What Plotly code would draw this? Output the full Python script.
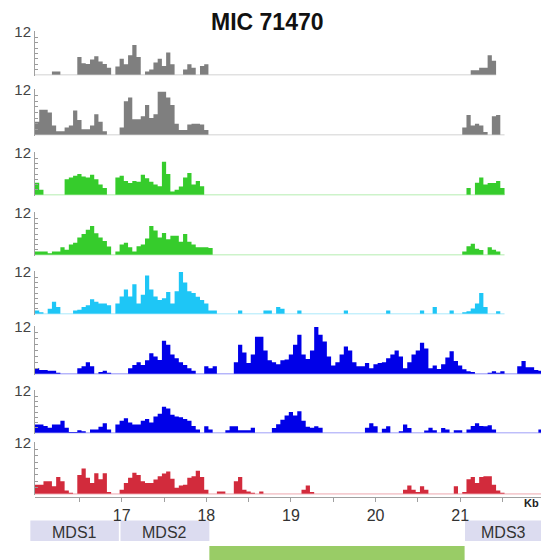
import plotly.graph_objects as go

# Read-depth profiles in 0.05 kb bins, starting at 15.975 kb
BIN_START = 15.975
BIN_WIDTH = 0.05

track_1 = [0, 0, 0, 0, 1, 1, 0, 0, 0, 0,
           5, 3.3, 3.1, 4.3, 5.2, 3.8, 3.1, 2, 0, 2.4,
           4.5, 3, 5.5, 8.4, 5, 0, 1, 1.5, 3.5, 4.5,
           2.5, 6.3, 3, 0, 0, 1.5, 3, 2, 0, 2.5,
           3, 0, 0, 0, 0, 0, 0, 0, 0, 0,
           0, 0, 0, 0, 0, 0, 0, 0, 0, 0,
           0, 0, 0, 0, 0, 0, 0, 0, 0, 0,
           0, 0, 0, 0, 0, 0, 0, 0, 0, 0,
           0, 0, 0, 0, 0, 0, 0, 0, 0, 0,
           0, 0, 0, 0, 0, 0, 0, 0, 0, 0,
           0, 0, 0, 1.3, 1.3, 2, 2, 5.5, 4]

track_2 = [3.5, 6.7, 6.7, 6, 2.5, 1, 1, 2, 2.5, 6.5,
           4, 1.5, 1.5, 2.5, 5.5, 3.5, 1, 0, 0, 0,
           2, 9, 10, 4.2, 4.2, 5, 8, 4.5, 5.5, 11.5,
           11.5, 10, 8, 3, 1.3, 1.3, 2.8, 3, 3, 2.8,
           1.3, 0, 0, 0, 0, 0, 0, 0, 0, 0,
           0, 0, 0, 0, 0, 0, 0, 0, 0, 0,
           0, 0, 0, 0, 0, 0, 0, 0, 0, 0,
           0, 0, 0, 0, 0, 0, 0, 0, 0, 0,
           0, 0, 0, 0, 0, 0, 0, 0, 0, 0,
           0, 0, 0, 0, 0, 0, 0, 0, 0, 0,
           0, 2, 5.3, 2.5, 3, 2.5, 0.8, 0, 5, 5.3,
           0]

track_3 = [3.5, 1.5, 0, 0, 0, 0, 0, 4.5, 5, 5.5,
           6, 5.3, 5, 5.8, 4.5, 3, 2, 0, 0, 5,
           5.5, 4, 3.4, 4, 3.8, 5.8, 4.8, 3.8, 3, 2.5,
           9.5, 6, 1, 1.5, 2.4, 5, 6.3, 3, 4, 2.5,
           0, 0, 0, 0, 0, 0, 0, 0, 0, 0,
           0, 0, 0, 0, 0, 0, 0, 0, 0, 0,
           0, 0, 0, 0, 0, 0, 0, 0, 0, 0,
           0, 0, 0, 0, 0, 0, 0, 0, 0, 0,
           0, 0, 0, 0, 0, 0, 0, 0, 0, 0,
           0, 0, 0, 0, 0, 0, 0, 0, 0, 0,
           0, 0, 2, 0, 3.5, 5, 3, 3.4, 3.4, 4,
           2]

track_4 = [1, 1, 1, 0.5, 1, 1, 2.2, 1.5, 3, 3.5,
           5, 6, 7.2, 8.3, 6.2, 5, 4, 2.4, 0, 1,
           3, 3.5, 2.2, 1, 2.5, 3, 4.7, 8.3, 7, 5,
           6.3, 4.5, 5.5, 5.5, 3.8, 6, 3.8, 3, 2.2, 2.2,
           2.2, 2, 0, 0, 0, 0, 0, 0, 0, 0,
           0, 0, 0, 0, 0, 0, 0, 0, 0, 0,
           0, 0, 0, 0, 0, 0, 0, 0, 0, 0,
           0, 0, 0, 0, 0, 0, 0, 0, 0, 0,
           0, 0, 0, 0, 0, 0, 0, 0, 0, 0,
           0, 0, 0, 0, 0, 0, 0, 0, 0, 0,
           0, 1, 2.5, 3.2, 1.8, 1.4, 0, 2.2, 1.5, 1,
           0]

track_5 = [1, 0.5, 0, 1.5, 3.5, 2, 0, 0, 0, 1,
           1.2, 2, 2.5, 4.2, 3.5, 3, 3, 2.5, 0, 3,
           5, 7, 5, 8.5, 3, 5.5, 11, 7, 5, 4,
           4.5, 6.3, 3, 6.5, 12, 9, 6.5, 6, 4.9, 4,
           3, 1, 1, 0, 0, 0, 0, 0, 1, 0,
           0, 0, 0, 0, 1, 1, 0, 2, 1.5, 0,
           0, 0, 1, 0, 0, 0, 0, 0, 0, 0,
           0, 0, 0, 1, 0, 0, 0, 0, 0, 0,
           0, 0, 0, 1, 0, 0, 0, 0, 0, 0,
           0, 1, 0, 0, 2, 0, 0, 0, 1, 0,
           0, 0.5, 0.8, 1.6, 3, 6, 2, 0, 0, 0.8,
           0]

track_6 = [1.5, 1, 1, 0.8, 0.8, 0.3, 0, 0, 0, 0,
           1.5, 2, 3, 2, 0, 0.5, 0.8, 0.3, 0, 0,
           0, 0, 1.5, 2.3, 3, 2.3, 3.5, 5.3, 4.5, 3.6,
           8.5, 7.5, 5, 4, 3, 2.3, 1.5, 0.8, 0, 0,
           2, 1.5, 2, 0, 0, 0, 0, 3, 7.5, 5.5,
           2.8, 5, 9.5, 9.5, 6, 3.5, 3, 2.5, 3.5, 3.7,
           5, 7.5, 10, 5, 3.8, 6, 12, 10, 8.3, 4.5,
           2.2, 3, 5, 7, 6, 3, 2, 2, 2.8, 1.5,
           2.5, 2.8, 3, 4, 5, 6, 4.5, 1.5, 3, 5,
           6, 8, 6.5, 1.5, 2.2, 1.3, 2.5, 4.2, 5.8, 3.3,
           2.2, 1.2, 0.7, 0.5, 0, 0, 0, 0.3, 0.7, 0.3,
           0.7, 0, 0, 0, 2, 3.3, 1.7, 1.7, 1, 0.8]

track_7 = [2.4, 2.4, 2, 1.5, 2.4, 2.4, 3.5, 1.5, 0.3, 0.3,
           0.8, 0.5, 0, 1, 1, 1.8, 2.8, 1, 0, 2.4,
           3.5, 4.2, 3, 2.4, 2.4, 3.5, 4, 3, 4.7, 5.5,
           7.5, 7, 5.2, 4.7, 4.5, 4, 3.5, 2, 1, 0,
           1.9, 1, 0, 0, 0, 0.8, 1.9, 1.9, 0.8, 0.8,
           0.8, 1.5, 0, 0, 0, 0, 1.4, 2.5, 3.8, 5,
           6, 5, 6.2, 3.5, 1.8, 1.5, 1.9, 1.5, 0, 0,
           0, 0, 0, 0, 0, 0, 0, 0, 1.5, 2.8,
           1.9, 0, 1.2, 1.9, 0, 0, 0.5, 2.4, 1.4, 0,
           0, 0, 0.7, 1.5, 0.8, 0, 1.4, 1, 0, 0.8,
           0.8, 0, 1, 2, 2.8, 2, 1.9, 2.2, 1, 0,
           0, 0, 0, 0, 0, 0, 0, 0, 0, 1]

track_8 = [2.2, 2.2, 3, 3, 1.8, 4, 3, 0.8, 0.3, 0,
           4.5, 6, 3.8, 2.6, 4.9, 3.5, 4.9, 0.5, 0, 0,
           1, 2.6, 3.8, 5, 4.5, 3, 2.6, 2.6, 3.4, 4.2,
           4.8, 5.3, 3.6, 1.5, 2, 2.2, 3.8, 4.2, 5.5, 4,
           1, 0, 0, 0.6, 0.6, 0, 0, 3, 4, 1,
           0.6, 0.3, 0, 0.6, 0, 0, 0, 0, 0, 0,
           0, 0, 0, 1, 2, 0.5, 0, 0, 0, 0,
           0, 0, 0, 0, 0, 0, 0, 0, 0, 0,
           0, 0, 0, 0, 0, 0, 0, 1, 2, 1,
           0.5, 1.8, 1, 0, 0, 0, 0, 0, 0, 1.8,
           0, 0.5, 3.5, 4, 2.6, 4, 4.2, 4.2, 2.2, 0.8,
           0.3, 0, 0, 0, 0, 0, 0, 0, 0, 0]

tracks = [track_1, track_2, track_3, track_4, track_5, track_6, track_7, track_8]

# Axis labelling
y_tick_label = "12"
x_tick_values = [17, 18, 19, 20, 21]
x_minor_ticks = [16.5, 17.5, 18.5, 19.5, 20.5, 21.5]

# Annotated segments below the axis (kb)
mds_names = ["MDS1", "MDS2", "MDS3"]
mds_starts = [15.92, 16.986, 21.058]
mds_ends = [16.966, 18.036, 22.0]
bar_start = [18.036]
bar_end = [21.053]

# Styling
fill_colors = ["#7f7f7f", "#7f7f7f", "#36cc2c", "#36cc2c",
               "#1ec6f6", "#0000e8", "#0000e8", "#d22b3c"]
base_colors = ["#c2c2c2", "#c2c2c2", "#9be695", "#9be695",
               "#8fe2fa", "#7070f5", "#8080f5", "#ea9aa2"]
# (top of scale, zero line) for each track, in pixels from the top
track_px = [(32, 75), (90, 135), (153, 195), (213, 255),
            (272, 314), (327, 374), (391, 433), (443, 494)]

W, H = 541, 560
LEFT = 35
X_RANGE = [15.975, 21.956]
Y_TOP = 12
FONT = "Liberation Sans, Arial, Helvetica, sans-serif"


def py(px):
    return 1 - px / H


def kb_to_paper(kb):
    return (kb - X_RANGE[0]) / (X_RANGE[1] - X_RANGE[0])


def px_to_paper_x(px):
    return (px - LEFT) / (W - LEFT)


fig = go.Figure()
layout = {}

for k, vals in enumerate(tracks):
    idx = k + 1
    xa = "x" if idx == 1 else f"x{idx}"
    ya = "y" if idx == 1 else f"y{idx}"
    n = len(vals)
    edges = [BIN_START + BIN_WIDTH * i for i in range(n + 1)]
    heights = list(vals) + [vals[-1]]

    fig.add_trace(go.Scatter(
        x=edges, y=heights, mode="lines",
        line=dict(width=0, shape="hv", color=fill_colors[k]),
        fill="tozeroy", fillcolor=fill_colors[k],
        xaxis=xa, yaxis=ya, hoverinfo="skip", showlegend=False))
    fig.add_trace(go.Scatter(
        x=[edges[0], edges[-1]], y=[0, 0], mode="lines",
        line=dict(width=1, color=base_colors[k]),
        xaxis=xa, yaxis=ya, hoverinfo="skip", showlegend=False))

    top_px, base_px = track_px[k]
    scale = (base_px - top_px) / Y_TOP
    y_lo, y_hi = -0.15, Y_TOP + 0.2
    domain = [py(base_px - y_lo * scale), py(top_px - (y_hi - Y_TOP) * scale)]

    ticks = [i * 1.5 for i in range(9)]
    layout[f"yaxis{'' if idx == 1 else idx}"] = dict(
        domain=domain, range=[y_lo, y_hi], anchor=xa,
        tickvals=ticks,
        ticktext=["" for _ in ticks[:-1]] + [y_tick_label],
        ticks="inside", ticklen=3, tickwidth=1, tickcolor="#9a9a9a",
        showline=True, linecolor="#a0a0a0", linewidth=1,
        showgrid=False, zeroline=False, automargin=False,
        tickfont=dict(family=FONT, size=15, color="#444444"),
    )

    xcfg = dict(range=X_RANGE, showgrid=False, zeroline=False,
                automargin=False)
    if idx < len(tracks):
        xcfg.update(visible=False, anchor=ya, matches="x8")
    else:
        xcfg.update(
            anchor="free", position=py(497),
            showline=True, linecolor="#a0a0a0", linewidth=1,
            tickvals=x_tick_values, ticktext=[str(v) for v in x_tick_values],
            ticks="outside", ticklen=4, tickwidth=1, tickcolor="#a0a0a0",
            minor=dict(tickvals=x_minor_ticks, ticks="outside", ticklen=4,
                       tickwidth=1, tickcolor="#a0a0a0", showgrid=False),
            tickfont=dict(family=FONT, size=16, color="#333333"),
        )
    layout[f"xaxis{'' if idx == 1 else idx}"] = xcfg

shapes = []
annotations = []

for name, s, e in zip(mds_names, mds_starts, mds_ends):
    shapes.append(dict(type="rect", xref="paper", yref="paper",
                       x0=kb_to_paper(s), x1=kb_to_paper(e),
                       y0=py(541), y1=py(520.5),
                       fillcolor="#dcdcf0", line=dict(width=0), layer="below"))
    annotations.append(dict(
        text=name, xref="paper", yref="paper",
        x=(kb_to_paper(s) + kb_to_paper(min(e, X_RANGE[1]))) / 2, y=py(532),
        showarrow=False, xanchor="center", yanchor="middle",
        font=dict(family=FONT, size=16, color="#333333")))

for s, e in zip(bar_start, bar_end):
    shapes.append(dict(type="rect", xref="paper", yref="paper",
                       x0=kb_to_paper(s), x1=kb_to_paper(e),
                       y0=py(562), y1=py(546),
                       fillcolor="#99cc66", line=dict(width=0), layer="below"))

annotations.append(dict(
    text="<b>MIC 71470</b>", xref="paper", yref="paper",
    x=px_to_paper_x(267), y=py(22), showarrow=False,
    xanchor="center", yanchor="middle",
    font=dict(family=FONT, size=23, color="#111111")))
annotations.append(dict(
    text="<b>Kb</b>", xref="paper", yref="paper",
    x=px_to_paper_x(531), y=py(503), showarrow=False,
    xanchor="center", yanchor="middle",
    font=dict(family=FONT, size=11, color="#222222")))

fig.update_layout(
    width=W, height=H,
    margin=dict(l=LEFT, r=0, t=0, b=0, pad=0),
    paper_bgcolor="white", plot_bgcolor="white",
    showlegend=False,
    shapes=shapes, annotations=annotations,
    **layout,
)

fig.write_html("out.html")
